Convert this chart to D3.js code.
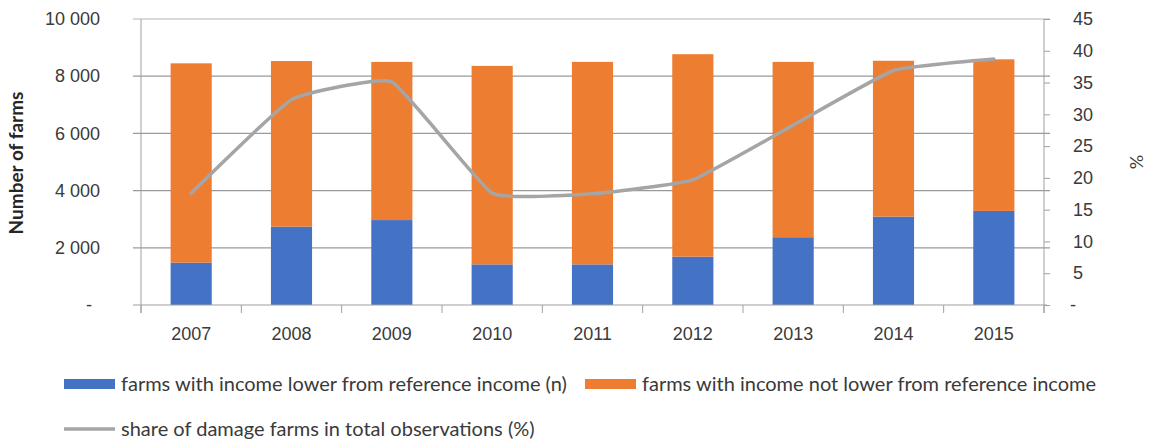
<!DOCTYPE html>
<html>
<head>
<meta charset="utf-8">
<script src="https://cdn.jsdelivr.net/npm/d3@7/dist/d3.min.js"></script>
<style>
  html, body { margin: 0; padding: 0; background: #fff; }
  svg { display: block; font-family: Lato, "Open Sans", "DejaVu Sans", sans-serif; }
</style>
</head>
<body>
<svg id="chart" width="1149" height="440"></svg>
<script>
// ---- data ----
const years = ["2007", "2008", "2009", "2010", "2011", "2012", "2013", "2014", "2015"];
const lowerIncome = [1480, 2740, 2970, 1420, 1420, 1690, 2370, 3090, 3290];
const notLowerIncome = [6970, 5790, 5530, 6940, 7080, 7080, 6130, 5450, 5300];
const sharePct = [17.6, 32.3, 35.1, 17.6, 17.5, 19.7, 28.3, 36.9, 38.7];
const leftTicks = [0, 2000, 4000, 6000, 8000, 10000];
const rightTicks = [0, 5, 10, 15, 20, 25, 30, 35, 40, 45];
const seriesNames = [
  "farms with income lower from reference income (n)",
  "farms with income not lower from reference income",
  "share of damage farms in total observations (%)"
];
const colors = ["#4472C4", "#ED7D31", "#A5A5A5"];

// ---- layout ----
const svg = d3.select("#chart");
const L = 141, R = 1044, T = 19, B = 305;

const x = d3.scaleBand().domain(years).range([L, R]).paddingInner(0.59).paddingOuter(0.295);
const yL = d3.scaleLinear().domain([0, 10000]).range([B, T]);
const yR = d3.scaleLinear().domain([0, 45]).range([B, T]);

const fmtL = d => d === 0 ? "-" : d3.format(",")(d).replace(/,/g, " ");
const fmtR = d => d === 0 ? "-" : String(d);

// gridlines
svg.append("g").selectAll("line").data(leftTicks.filter(d => d > 0)).join("line")
  .attr("x1", L - 8).attr("x2", R + 6)
  .attr("y1", d => yL(d)).attr("y2", d => yL(d))
  .attr("stroke", d => d === 10000 ? "#b4b4b4" : "#9a9a9a").attr("stroke-width", 1.2);

// stacked bars
const stack = d3.stack().keys([0, 1]).value((d, k) => k === 0 ? d.low : d.high);
const rows = years.map((y, i) => ({ year: y, low: lowerIncome[i], high: notLowerIncome[i] }));
const stacked = stack(rows);
svg.append("g").selectAll("g").data(stacked).join("g")
  .attr("fill", (d, i) => colors[i])
  .selectAll("rect").data(d => d).join("rect")
  .attr("x", d => x(d.data.year))
  .attr("width", x.bandwidth())
  .attr("y", d => yL(d[1]))
  .attr("height", d => yL(d[0]) - yL(d[1]));

// line
const line = d3.line()
  .x((d, i) => x(years[i]) + x.bandwidth() / 2)
  .y(d => yR(d))
  .curve(d3.curveCardinal.tension(0.65));
svg.append("path").datum(sharePct)
  .attr("d", line).attr("fill", "none")
  .attr("stroke", colors[2]).attr("stroke-width", 3.5)
  .attr("stroke-linejoin", "round").attr("stroke-linecap", "round");

// axes
const axisColor = "#a0a0a0";
const textColor = "#3a3a3a";
const tickFont = "18px";

const gL = svg.append("g").attr("transform", `translate(${L},0)`)
  .call(d3.axisLeft(yL).tickValues(leftTicks).tickFormat(fmtL).tickSize(8).tickPadding(33));
gL.select(".domain").remove();
gL.selectAll(".tick line").remove();
gL.append("line").attr("x1", 0).attr("x2", 0).attr("y1", T).attr("y2", B + 8).attr("stroke", axisColor);
gL.selectAll(".tick text").attr("fill", textColor).style("font-size", tickFont)
  .attr("dx", d => d === 0 ? -8 : 0);

const gR = svg.append("g").attr("transform", `translate(${R},0)`)
  .call(d3.axisRight(yR).tickValues(rightTicks).tickFormat(fmtR).tickSize(6).tickPadding(23));
gR.select(".domain").remove();
gR.selectAll(".tick line").attr("stroke", axisColor);
gR.append("line").attr("x1", 0).attr("x2", 0).attr("y1", T).attr("y2", B + 8).attr("stroke", axisColor);
gR.selectAll(".tick text").attr("fill", textColor).style("font-size", tickFont)
  .attr("dx", d => d === 0 ? -3 : 0);

const gB = svg.append("g").attr("transform", `translate(0,${B})`)
  .call(d3.axisBottom(x).tickSize(0).tickPadding(22));
gB.select(".domain").remove();
gB.append("line").attr("x1", L - 8).attr("x2", R + 3).attr("y1", 0).attr("y2", 0).attr("stroke", axisColor).attr("stroke-width", 1.2);
gB.append("g").selectAll("line").data(d3.range(years.length + 1)).join("line")
  .attr("x1", i => L + i * x.step()).attr("x2", i => L + i * x.step())
  .attr("y1", 0).attr("y2", 8).attr("stroke", axisColor);
gB.selectAll(".tick text").attr("fill", textColor).style("font-size", tickFont);

// axis titles
svg.append("text")
  .attr("transform", `translate(23,163) rotate(-90)`)
  .attr("text-anchor", "middle")
  .attr("fill", "#262626").style("font-size", "19px").style("font-weight", "bold")
  .text("Number of farms");
svg.append("text")
  .attr("transform", `translate(1143,162) rotate(-90)`)
  .attr("text-anchor", "middle")
  .attr("fill", textColor).style("font-size", "18px")
  .text("%");

// legend
const legend = svg.append("g").style("font-size", "20px").attr("fill", textColor);
const items = [
  { name: seriesNames[0], type: "rect", c: colors[0], x: 64, y: 384 },
  { name: seriesNames[1], type: "rect", c: colors[1], x: 585, y: 384 },
  { name: seriesNames[2], type: "line", c: colors[2], x: 64, y: 429 }
];
items.forEach(it => {
  const g = legend.append("g").attr("transform", `translate(${it.x},${it.y})`);
  if (it.type === "rect") {
    g.append("rect").attr("x", 0).attr("y", -5).attr("width", 51).attr("height", 10).attr("fill", it.c);
  } else {
    g.append("line").attr("x1", 0).attr("x2", 51).attr("y1", 0).attr("y2", 0)
      .attr("stroke", it.c).attr("stroke-width", 3.5);
  }
  g.append("text").attr("x", 57).attr("dy", "0.35em").text(it.name);
});
</script>
</body>
</html>
